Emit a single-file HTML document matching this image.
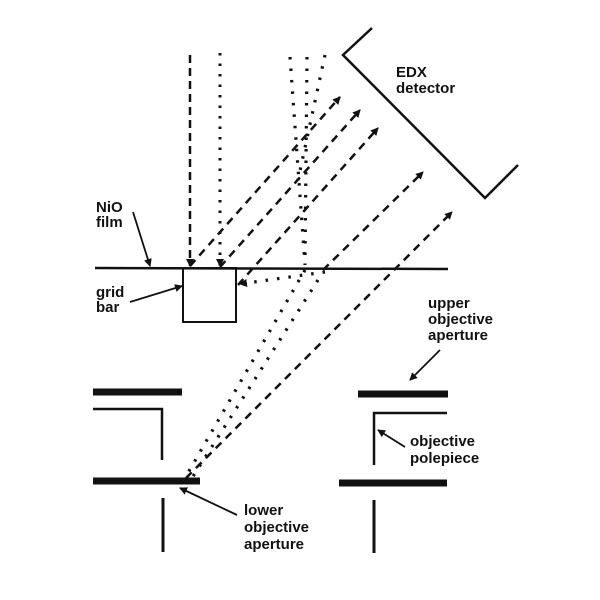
<!DOCTYPE html>
<html><head><style>
html,body{margin:0;padding:0;background:#fff;}
svg{display:block;}
text{font-family:"Liberation Sans",sans-serif;font-weight:bold;font-size:15px;fill:#111;}
</style></head><body>
<svg width="600" height="600" viewBox="0 0 600 600" xmlns="http://www.w3.org/2000/svg">
<defs>
<marker id="a" markerWidth="8" markerHeight="8" refX="7" refY="4" orient="auto" markerUnits="userSpaceOnUse">
<path d="M0,0 L8,4 L0,8 z" fill="#111"/></marker>
</defs>
<g stroke="#111" fill="none">
<polyline points="372,28 343,55 485,198 518,165" stroke-width="2.5"/>
<line x1="95" y1="268" x2="448" y2="269" stroke-width="2.5"/>
<rect x="183" y="268" width="53" height="54" stroke-width="2"/>
<line x1="190" y1="55" x2="190" y2="266" stroke-width="2.5" stroke-dasharray="8,5" marker-end="url(#a)"/>
<line x1="220" y1="53" x2="220" y2="266" stroke-width="3" stroke-dasharray="2.5,8" marker-end="url(#a)"/>
<g stroke-width="3.2" stroke-dasharray="2.5,9">
<line x1="290" y1="57" x2="305" y2="265"/>
<line x1="307" y1="57" x2="305" y2="262"/>
<line x1="325" y1="55" x2="298" y2="180"/>
<line x1="305" y1="270" x2="185" y2="478"/>
<line x1="318" y1="280" x2="192" y2="478"/>
<line x1="325" y1="272" x2="240" y2="284" marker-end="url(#a)"/>
</g>
<g stroke-width="2.5" stroke-dasharray="8,6">
<line x1="190" y1="266" x2="340" y2="97" marker-end="url(#a)"/>
<line x1="220" y1="267" x2="360" y2="110" marker-end="url(#a)"/>
<line x1="238" y1="285" x2="378" y2="128" marker-end="url(#a)"/>
<line x1="323" y1="270" x2="423" y2="172" marker-end="url(#a)"/>
<line x1="186" y1="478" x2="452" y2="212" marker-end="url(#a)"/>
</g>
<line x1="93" y1="392" x2="182" y2="392" stroke-width="7"/>
<polyline points="93,409 162,409 162,460" stroke-width="2.5"/>
<line x1="93" y1="481" x2="200" y2="481" stroke-width="7"/>
<line x1="163" y1="498" x2="163" y2="552" stroke-width="3"/>
<line x1="358" y1="394" x2="448" y2="394" stroke-width="7"/>
<polyline points="447,413 374,413 374,465" stroke-width="2.5"/>
<line x1="339" y1="483" x2="447" y2="483" stroke-width="7"/>
<line x1="374" y1="500" x2="374" y2="553" stroke-width="3"/>
<g stroke-width="1.8">
<line x1="133" y1="212" x2="150" y2="266" marker-end="url(#a)"/>
<line x1="130" y1="302" x2="182" y2="286" marker-end="url(#a)"/>
<line x1="440" y1="350" x2="410" y2="380" marker-end="url(#a)"/>
<line x1="405" y1="447" x2="378" y2="430" marker-end="url(#a)"/>
<line x1="237" y1="515" x2="180" y2="488" marker-end="url(#a)"/>
</g>
</g>
<text x="396" y="77">EDX</text>
<text x="396" y="93">detector</text>
<text x="96" y="212">NiO</text>
<text x="96" y="227">film</text>
<text x="96" y="297">grid</text>
<text x="96" y="312">bar</text>
<text x="428" y="308">upper</text>
<text x="428" y="324">objective</text>
<text x="428" y="340">aperture</text>
<text x="410" y="446">objective</text>
<text x="410" y="463">polepiece</text>
<text x="244" y="515">lower</text>
<text x="244" y="532">objective</text>
<text x="244" y="549">aperture</text>
</svg>
</body></html>
